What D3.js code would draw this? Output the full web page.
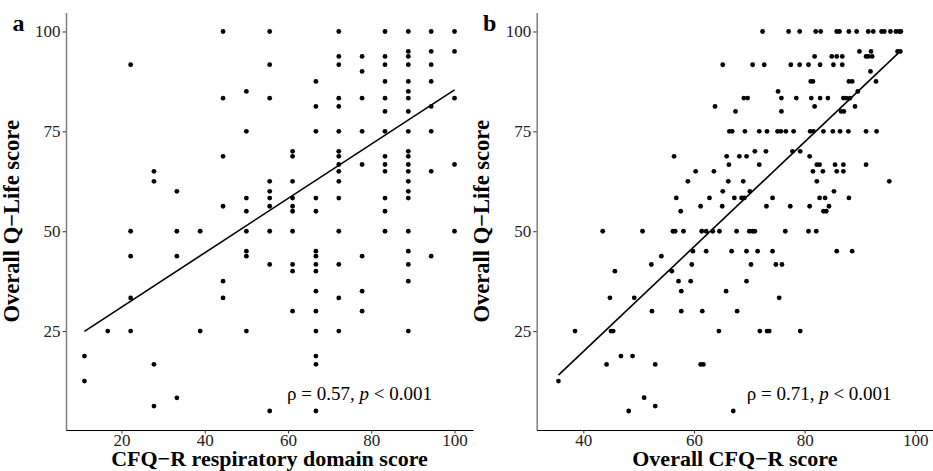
<!DOCTYPE html>
<html><head><meta charset="utf-8">
<script src="https://cdn.jsdelivr.net/npm/d3@7"></script>
<style>
body{margin:0;background:#fff;}
svg{display:block;font-family:"Liberation Serif","Times New Roman",serif;}
</style></head>
<body><svg id="c" width="933" height="471"></svg>
<script>
// ---------- DATA ----------
// Panel a: CFQ-R respiratory domain score (x) vs overall Q-Life score (y)
const respX = [11.1,16.7,22.2,27.8,33.3,38.9,44.4,50,55.6,61.1,66.7,72.2,77.8,83.3,88.9,94.4,100];
const respYByX = [
  [18.75,12.5],
  [25],
  [91.7,50,43.75,33.3,25],
  [65,62.5,16.7,6.25],
  [60,50,43.75,8.3],
  [50,25],
  [100,83.3,68.75,56.25,37.5,33.3],
  [85,75,58.3,55,50,45,43.75,25],
  [100,91.7,83.3,62.5,60,58.3,56.25,50,41.7,5],
  [70,68.75,62.5,58.3,56.25,55,50,41.7,40,30],
  [87.5,81.25,75,58.3,55,45,43.75,41.7,40,35,30,25,18.75,16.7,5],
  [100,93.75,91.7,83.3,81.25,75,70,68.75,66.7,65,62.5,58.3,50,41.7,33.3,25],
  [93.75,90,83.3,75,66.7,43.75,35,30],
  [100,93.75,91.7,87.5,83.3,80,75,68.75,66.7,65,58.3,55,50],
  [100,95,93.75,91.7,87.5,85,83.3,80,75,70,68.75,66.7,65,62.5,60,58.3,50,45,41.7,37.5,25],
  [100,95,91.7,87.5,81.25,75,65,43.75],
  [100,95,83.3,66.7,50]
];
// Panel b: overall CFQ-R score (x) vs overall Q-Life score (y), grouped by Q-Life value
const qlRows = [100,95,93.75,91.67,90,87.5,85,83.33,81.25,80,75,70,68.75,66.67,65,62.5,60,58.33,56.25,55,50,45,43.75,41.67,40,37.5,35,33.33,30,25,18.75,16.67,12.5,8.33,6.25,5];
const cfqXByRow = [
  [72.4,77.1,79.1,82,82.9,85.8,86.3,88,89.4,91.5,92.4,93.9,94.4,95.5,96.5,97.1,97.4],
  [89.9,92,96.8,97.3],
  [81.8,84.9,85.8,86.8,91.1,91.5,92.2],
  [65.2,70.6,72.7,77.5,79.1,80.7,82.8,85.2,86.8],
  [91.9],
  [81.1,81.5,88,88.6,92.9],
  [75.2,89.6],
  [69,69.7,75.8,78.5,81.2,82.8,84.2,87,87.5,88.2],
  [63.8,81.8,89.1],
  [67.5,75.8,86.6,87.1],
  [66.4,66.9,69.2,71.8,73.2,75.1,75.7,76.6,78,81,81.6,83.4,85.1,86.4,87.9,91.1,93],
  [71,73,77.8,79.2],
  [56.4,65.9,68.2,69.5,80.9],
  [66.3,71.8,82.2,82.7,85.5,87,91.1],
  [60.3,63.6,81.5,83.3,85.8,87],
  [58.9,66.2,68.9,82.2,95.3],
  [65.2,70.1,85.3],
  [56.8,62.8,67.3,68.6,69.1,74.2,82.7,83.7,88],
  [61.2,65.1,73.1,77.4,80.9,84.4],
  [57.6,83.4,83.9],
  [43.5,50.7,56.2,56.6,58.1,61.4,62.2,63.4,64.6,67.7,70,70.6,71,76.5,80.7,82.1],
  [59.8,62.2,66.8,69.5,71.5,74.2,85.8,88.6],
  [54.1],
  [52.3,59.6,70.3,74.8,75.9],
  [45.7,56.0],
  [57.2,59.4,69.5],
  [57.7,65.8],
  [44.8,49.2,75.4],
  [52.4,57.7,61.5,67.8],
  [38.5,45,45.4,64.5,71.9,73.2,73.6,79.2],
  [46.8,48.9],
  [44.2,53,61.2,61.7],
  [35.5],
  [51],
  [53],
  [48.2,67.1]
];
// Fitted regression lines as shown in the reference: [intercept, slope]
// (many overlapping duplicate points are hidden in the picture, so the fit is read from the drawn line)
const fitA = [17.4, 0.680];
const fitB = [-32.6, 1.312];
const yTicks = [25,50,75,100];
const xTicksA = [20,40,60,80,100];
const xTicksB = [40,60,80,100];
const panelLabels = ["a","b"];
const xTitles = ["CFQ\u2212R respiratory domain score","Overall CFQ\u2212R score"];
const yTitle = "Overall Q\u2212Life score";
const rhoVals = ["0.57","0.71"];
const pText = "0.001";

// ---------- BUILD ----------
const ptsA = [];
respX.forEach((x,i)=>respYByX[i].forEach(y=>ptsA.push([x,y])));
const ptsB = [];
qlRows.forEach((y,i)=>cfqXByRow[i].forEach(x=>ptsB.push([x,y])));

const svg = d3.select("#c");
const panels = [
  {off:0, x0:66, x1:473, dom:[6.67,104.44], pts:ptsA, fit:fitA, ticks:xTicksA, title:xTitles[0], label:panelLabels[0], rho:rhoVals[0], annX:287},
  {off:470.5, x0:536.7, x1:933, dom:[31.57,103.2], pts:ptsB, fit:fitB, ticks:xTicksB, title:xTitles[1], label:panelLabels[1], rho:rhoVals[1], annX:746.7}
];
const yTop=12.5, yBot=430;
const y = d3.scaleLinear().domain([0.25,104.75]).range([yBot,yTop]);

panels.forEach(p=>{
  const x = d3.scaleLinear().domain(p.dom).range([p.x0,p.x1]);
  const g = svg.append("g");
  // points
  g.selectAll("circle").data(p.pts).join("circle")
    .attr("cx",d=>x(d[0])).attr("cy",d=>y(d[1])).attr("r",2.4).attr("fill","#000");
  // regression line across the data's x range
  const ex = d3.extent(p.pts,d=>d[0]);
  const line = d3.line().x(d=>x(d)).y(d=>y(p.fit[0]+p.fit[1]*d));
  g.append("path").attr("d",line(ex)).attr("fill","none")
    .attr("stroke","#000").attr("stroke-width",1.6);
  // y axis
  const ya = g.append("g").attr("transform",`translate(${p.x0},0)`)
    .call(d3.axisLeft(y).tickValues(yTicks).tickSize(3.5).tickPadding(2).tickSizeOuter(0));
  ya.select(".domain").attr("stroke","#7f7f7f").attr("stroke-width",1.5);
  ya.selectAll(".tick line").attr("stroke","#333");
  ya.selectAll(".tick text").attr("fill","#222").style("font-size","17px").style("font-family","Liberation Serif");
  // x axis
  const xa = g.append("g").attr("transform",`translate(0,${yBot})`)
    .call(d3.axisBottom(x).tickValues(p.ticks).tickSize(3.5).tickPadding(0.5).tickSizeOuter(0));
  xa.select(".domain").attr("stroke","#000").attr("stroke-width",1.1);
  xa.selectAll(".tick line").attr("stroke","#333");
  xa.selectAll(".tick text").attr("fill","#222").style("font-size","17px").style("font-family","Liberation Serif");
  // titles
  g.append("text").attr("x",(p.x0+p.x1)/2).attr("y",466).attr("text-anchor","middle")
    .style("font-size","22px").style("font-weight","bold").text(p.title);
  g.append("text").attr("transform",`translate(${p.off+18.5},${(yTop+yBot)/2}) rotate(-90)`)
    .attr("text-anchor","middle").style("font-size","22.5px").style("font-weight","bold").text(yTitle);
  g.append("text").attr("x",p.off+12.5).attr("y",30.5).style("font-size","24px").style("font-weight","bold").text(p.label);
  // annotation
  const t = g.append("text").attr("x",p.annX).attr("y",400).style("font-size","19px");
  t.append("tspan").text(`\u03C1 = ${p.rho}, `);
  t.append("tspan").style("font-style","italic").text("p");
  t.append("tspan").text(` < ${pText}`);
});
</script></body></html>
